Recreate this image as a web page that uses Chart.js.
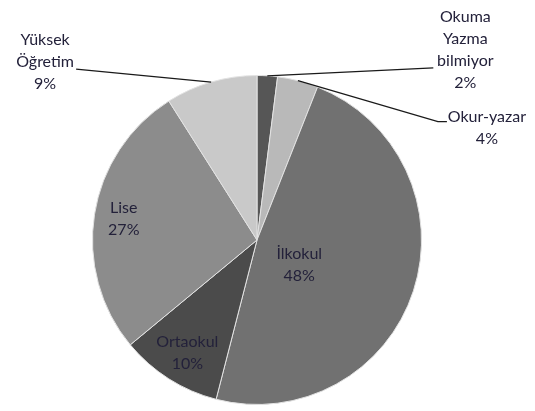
<!DOCTYPE html>
<html>
<head>
<meta charset="utf-8">
<script src="https://cdn.jsdelivr.net/npm/chart.js@4/dist/chart.umd.min.js"></script>
<style>
  html, body { margin: 0; padding: 0; background: #ffffff; }
  #wrap { width: 535px; height: 411px; position: relative; }
</style>
</head>
<body>
<div id="wrap"><canvas id="c" width="535" height="411"></canvas></div>
<script>
// ---- data ----
const categories = ['Okuma Yazma bilmiyor', 'Okur-yazar', 'İlkokul', 'Ortaokul', 'Lise', 'Yüksek Öğretim'];
const percentages = [2, 4, 48, 10, 27, 9];
const sliceColors = ['#565656', '#b9b9b9', '#717171', '#4b4b4b', '#8c8c8c', '#c9c9c9'];

// label layout (how each category label is broken and placed)
const labelLayout = [
  { lines: ['Okuma', 'Yazma', 'bilmiyor'], outside: true, tx: 198, ty: -26, lx: 166, ly: -8, tick: 0 },
  { lines: ['Okur-yazar'], outside: true, tx: 189, ty: 47, lx: 140, ly: 41, tick: 9 },
  { lines: ['İlkokul'], outside: false, r: 0.27, dx: 0, dy: 11 },
  { lines: ['Ortaokul'], outside: false, r: 0.79, dx: 0, dy: 3 },
  { lines: ['Lise'], outside: false, r: 0.82, dx: 0, dy: 0 },
  { lines: ['Yüksek', 'Öğretim'], outside: true, tx: -166, ty: -20, lx: -135, ly: -13, tick: 0 }
];

const FONT = '16px Lato, "Open Sans", sans-serif';
const LINE_H = 22;

const labelPlugin = {
  id: 'pieLabels',
  afterDatasetsDraw(chart) {
    const ctx = chart.ctx;
    const meta = chart.getDatasetMeta(0);
    ctx.save();
    ctx.font = FONT;
    ctx.textAlign = 'center';
    ctx.textBaseline = 'middle';
    meta.data.forEach((arc, i) => {
      const p = arc.getProps(['x', 'y', 'startAngle', 'endAngle', 'outerRadius'], true);
      const mid = (p.startAngle + p.endAngle) / 2;
      const lay = labelLayout[i];
      const lines = lay.lines.concat([percentages[i] + '%']);
      let cx, cy;
      if (lay.outside) {
        const ex = p.x + Math.cos(mid) * p.outerRadius;
        const ey = p.y + Math.sin(mid) * p.outerRadius;
        const lx = ex + lay.lx, ly = ey + lay.ly;
        ctx.strokeStyle = '#1a1a1a';
        ctx.lineWidth = 1.3;
        ctx.beginPath();
        ctx.moveTo(ex, ey);
        ctx.lineTo(lx, ly);
        if (lay.tick) ctx.lineTo(lx + lay.tick, ly);
        ctx.stroke();
        cx = ex + lay.tx; cy = ey + lay.ty;
      } else {
        cx = p.x + Math.cos(mid) * p.outerRadius * lay.r + lay.dx;
        cy = p.y + Math.sin(mid) * p.outerRadius * lay.r + lay.dy;
      }
      ctx.fillStyle = '#23213a';
      const top = cy - (lines.length - 1) * LINE_H / 2;
      lines.forEach((t, k) => ctx.fillText(t, cx, top + k * LINE_H));
    });
    ctx.restore();
  }
};

new Chart(document.getElementById('c'), {
  type: 'pie',
  data: {
    labels: categories,
    datasets: [{
      data: percentages,
      backgroundColor: sliceColors,
      borderColor: '#e2e2e2',
      borderWidth: 1
    }]
  },
  options: {
    responsive: false,
    animation: false,
    layout: { padding: { left: 92, right: 113, top: 75, bottom: 6 } },
    plugins: { legend: { display: false }, tooltip: { enabled: false } }
  },
  plugins: [labelPlugin]
});
</script>
</body>
</html>
